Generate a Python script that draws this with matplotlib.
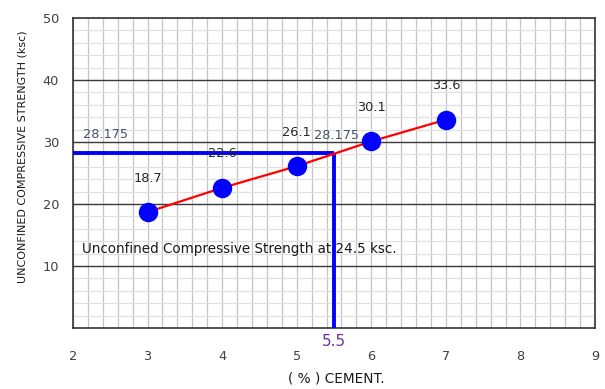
import matplotlib
matplotlib.use("Agg")
import matplotlib.pyplot as plt
import numpy as np

cement = [3, 4, 5, 6, 7]
strength = [18.7, 22.6, 26.1, 30.1, 33.6]
point_labels = ["18.7", "22.6", "26.1", "30.1", "33.6"]
target_x = 5.5
target_y = 28.175
x_ticks = [2, 3, 4, 5, 6, 7, 8, 9]
y_ticks = [10, 20, 30, 40, 50]

plt.rcParams['font.family'] = ['DejaVu Sans']
fig = plt.figure(figsize=(6.05, 3.89), dpi=100)
ax = fig.add_axes([73/605, 1-328/389, (595-73)/605, (328-18)/389])
ax.set_xlim(2, 9)
ax.set_ylim(0, 50)

# grid
for xv in np.arange(2, 9.001, 0.2):
    ax.axvline(xv, color='#c4c4c4', lw=0.9, zorder=0)
for yv in np.arange(0, 50.001, 2):
    ax.axhline(yv, color='#e0e0e0', lw=0.9, zorder=0)
for yv in [10, 20, 30, 40]:
    ax.axhline(yv, color='#3a3a3a', lw=1.0, zorder=1)

for s in ax.spines.values():
    s.set_color('#333333')
    s.set_linewidth(1.2)

ax.set_xticks(x_ticks)
ax.set_yticks(y_ticks)
ax.tick_params(length=0, labelsize=9.3, colors='#404040')
ax.tick_params(axis='x', pad=16)
ax.tick_params(axis='y', pad=10)

# blue guide lines
ax.plot([2, target_x], [target_y, target_y], color='#0000ff', lw=2.8, zorder=3, solid_capstyle='butt')
ax.plot([target_x, target_x], [0, target_y], color='#0000ff', lw=2.8, zorder=3, solid_capstyle='butt')

# data
ax.plot(cement, strength, color='#ff0000', lw=1.6, zorder=4)
ax.plot(cement, strength, 'o', color='#0000ff', ms=13, zorder=5, clip_on=False)
for x, y, t in zip(cement, strength, point_labels):
    ax.annotate(t, (x, y), xytext=(0, 24.5), textcoords='offset points', ha='center',
                va='center', fontsize=9.3, color='#262626', zorder=6)

ax.text(2.13, 28.175 + 3.1, "28.175", fontsize=9.3, color='#44546A', ha='left', va='center')
ax.text(5.53, 28.175 + 2.9, "28.175", fontsize=9.3, color='#44546A', ha='center', va='center')
ax.text(2.12, 12.8, "Unconfined Compressive Strength at 24.5 ksc.", fontsize=9.75,
        color='#1a1a1a', ha='left', va='center', zorder=6)
ax.text(target_x, -2.1, "5.5", fontsize=11, color='#7030A0', ha='center', va='center', clip_on=False)

ax.set_xlabel("( % ) CEMENT.", fontsize=9.8, color='#1a1a1a')
ax.xaxis.set_label_coords((336-73)/522, (328-372)/310)
ax.set_ylabel("UNCONFINED COMPRESSIVE STRENGTH (ksc)", fontsize=8, color='#1a1a1a')
ax.yaxis.set_label_coords((28-73)/522, (328-157)/310)

fig.savefig("out.png", dpi=100)
